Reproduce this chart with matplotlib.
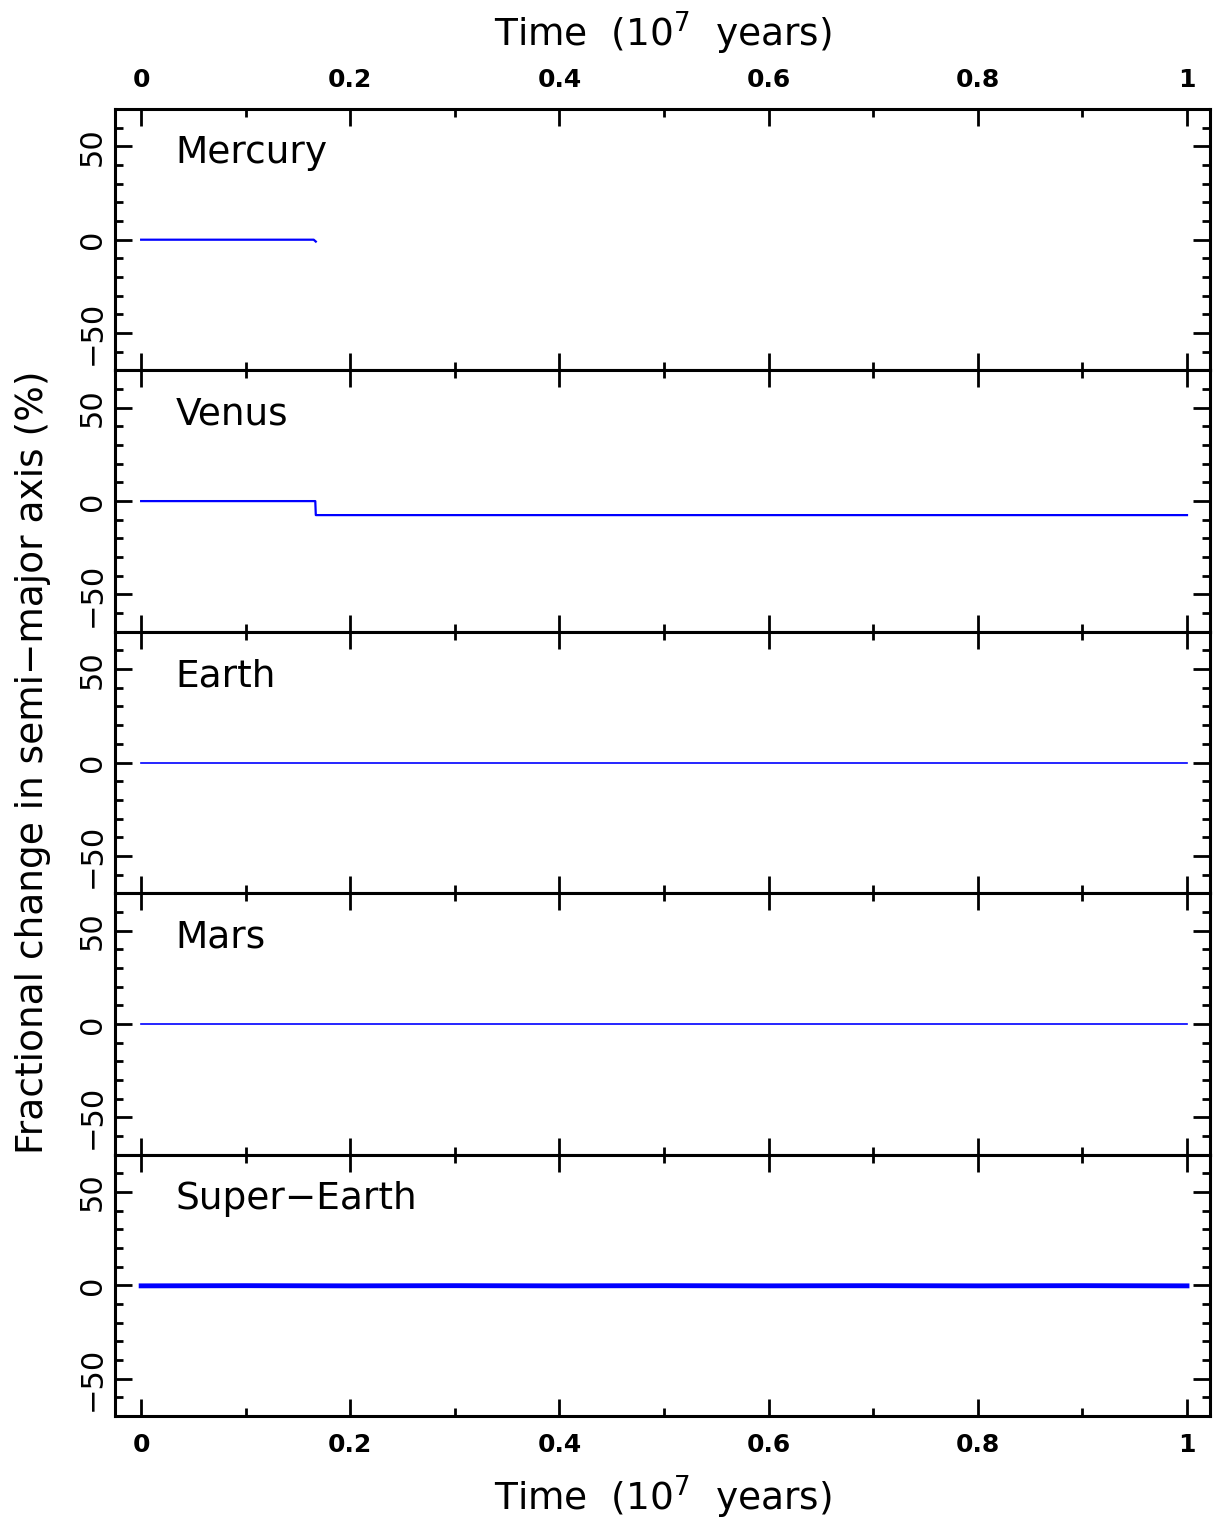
import numpy as np
import matplotlib
matplotlib.use('Agg')
import matplotlib.pyplot as plt
from matplotlib.ticker import MultipleLocator

#  Planet names, one per panel
planets = ['Mercury', 'Venus', 'Earth', 'Mars', 'Super\u2212Earth']

#  Time (10^7 yr) and fractional change in semi-major axis (%) per planet
mercury_t = [0.0, 0.05, 0.10, 0.15, 0.165, 0.167]
mercury_a = [0.0, 0.0, 0.0, 0.0, 0.0, -1.0]
venus_t = [0.0, 0.05, 0.10, 0.15, 0.1665, 0.167, 0.4, 0.6, 0.8, 1.0]
venus_a = [0.0, 0.0, 0.0, 0.0, 0.0, -7.5, -7.5, -7.5, -7.5, -7.5]
earth_t = [0.0, 0.2, 0.4, 0.6, 0.8, 1.0]
earth_a = [0.0, 0.0, 0.0, 0.0, 0.0, 0.0]
mars_t = [0.0, 0.2, 0.4, 0.6, 0.8, 1.0]
mars_a = [0.0, 0.0, 0.0, 0.0, 0.0, 0.0]
super_t = [0.0, 0.1, 0.2, 0.3, 0.4, 0.5, 0.6, 0.7, 0.8, 0.9, 1.0]
super_a = [-0.3, -0.2, -0.3, -0.2, -0.3, -0.2, -0.3, -0.2, -0.3, -0.2, -0.3]

series = [(mercury_t, mercury_a), (venus_t, venus_a), (earth_t, earth_a),
          (mars_t, mars_a), (super_t, super_a)]
widths = [1.6, 1.6, 1.2, 1.2, 3.5]

fig = plt.figure(figsize=(12.14, 15.21), dpi=100)
left, right = 115 / 1214, 1210 / 1214
top, bottom = 1 - 109 / 1521, 1 - 1416 / 1521
h = (top - bottom) / 5

for i, (name, (t, a)) in enumerate(zip(planets, series)):
    ax = fig.add_axes([left, top - (i + 1) * h, right - left, h])
    ax.plot(t, a, color='#0000ff', lw=widths[i])
    ax.set_xlim(-0.025, 1.022)
    ax.set_ylim(-70, 70)
    ax.xaxis.set_major_locator(MultipleLocator(0.2))
    ax.xaxis.set_minor_locator(MultipleLocator(0.1))
    ax.yaxis.set_minor_locator(MultipleLocator(10))
    ax.tick_params(which='both', direction='in', top=True, right=True,
                   width=2)
    ax.tick_params(which='major', length=12)
    ax.tick_params(which='minor', length=6)
    ax.tick_params(axis='x', labelbottom=(i == 4), labeltop=(i == 0), pad=12)
    ax.tick_params(axis='y', pad=6)
    ax.set_yticks([-50, 0, 50])
    ax.set_yticklabels(['\u221250', '0', '50'], rotation=90, va='center',
                       fontsize=22)
    ax.set_xticks([0, 0.2, 0.4, 0.6, 0.8, 1.0])
    ax.set_xticklabels(['0', '0.2', '0.4', '0.6', '0.8', '1'],
                       fontsize=18, fontweight='bold')
    for s in ax.spines.values():
        s.set_linewidth(2.2)
    ax.text(0.055, 0.83, name, transform=ax.transAxes, fontsize=27,
            va='center', ha='left')
    if i == 0:
        ax.set_xlabel(r'Time  (10$^7$  years)', fontsize=27, labelpad=16)
        ax.xaxis.set_label_position('top')
    if i == 4:
        ax.set_xlabel(r'Time  (10$^7$  years)', fontsize=27, labelpad=12)

fig.text(0.027, (top + bottom) / 2,
         'Fractional change in semi\u2212major axis (%)',
         rotation=90, va='center', ha='center', fontsize=27)

fig.savefig('out.png', dpi=100)
